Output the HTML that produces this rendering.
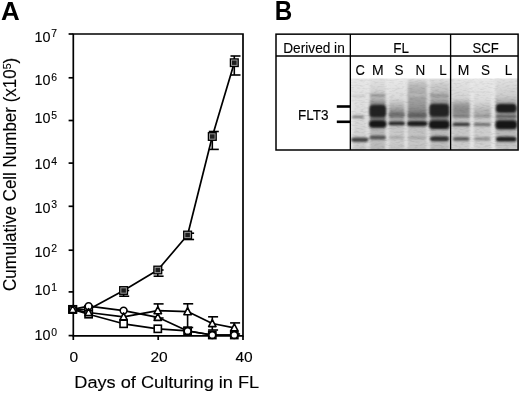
<!DOCTYPE html>
<html><head><meta charset="utf-8"><style>
html,body{margin:0;padding:0;background:#fff;}
body{width:520px;height:393px;overflow:hidden;}
svg{display:block;filter:blur(0.3px);}
text{font-family:"Liberation Sans",sans-serif;fill:#000;}
</style></head><body>
<svg width="520" height="393" viewBox="0 0 520 393">
<rect width="520" height="393" fill="#fff"/>
<text transform="translate(10.30,19.60) scale(1.020,1)" font-size="25.4" text-anchor="middle" font-weight="bold">A</text>
<text transform="translate(283.50,19.80) scale(0.900,1)" font-size="26.9" text-anchor="middle" font-weight="bold">B</text>
<g stroke="#000" stroke-width="1.7" fill="none">
<path d="M73.3,34 H243 V335.8 H73.3 Z"/>
<line x1="68.6" y1="335.6" x2="73.3" y2="335.6"/><line x1="68.6" y1="291.9" x2="73.3" y2="291.9"/><line x1="68.6" y1="250.2" x2="73.3" y2="250.2"/><line x1="68.6" y1="206.3" x2="73.3" y2="206.3"/><line x1="68.6" y1="163.1" x2="73.3" y2="163.1"/><line x1="68.6" y1="120.5" x2="73.3" y2="120.5"/><line x1="68.6" y1="77.8" x2="73.3" y2="77.8"/><line x1="68.6" y1="34.0" x2="73.3" y2="34.0"/>
<line x1="73.3" y1="335.8" x2="73.3" y2="340"/>
<line x1="158.2" y1="335.8" x2="158.2" y2="340"/>
<line x1="243" y1="335.8" x2="243" y2="340"/>
</g>
<text transform="translate(50.50,340.00) scale(1.020,1)" font-size="14.1" text-anchor="end" stroke="#000" stroke-width="0.12">10</text><text transform="translate(51.20,335.60) scale(1.000,1)" font-size="10.4" text-anchor="start" stroke="#000" stroke-width="0.12">0</text><text transform="translate(50.50,295.20) scale(1.020,1)" font-size="14.1" text-anchor="end" stroke="#000" stroke-width="0.12">10</text><text transform="translate(51.20,290.80) scale(1.000,1)" font-size="10.4" text-anchor="start" stroke="#000" stroke-width="0.12">1</text><text transform="translate(50.50,256.80) scale(1.020,1)" font-size="14.1" text-anchor="end" stroke="#000" stroke-width="0.12">10</text><text transform="translate(51.20,252.40) scale(1.000,1)" font-size="10.4" text-anchor="start" stroke="#000" stroke-width="0.12">2</text><text transform="translate(50.50,212.60) scale(1.020,1)" font-size="14.1" text-anchor="end" stroke="#000" stroke-width="0.12">10</text><text transform="translate(51.20,208.20) scale(1.000,1)" font-size="10.4" text-anchor="start" stroke="#000" stroke-width="0.12">3</text><text transform="translate(50.50,169.40) scale(1.020,1)" font-size="14.1" text-anchor="end" stroke="#000" stroke-width="0.12">10</text><text transform="translate(51.20,165.00) scale(1.000,1)" font-size="10.4" text-anchor="start" stroke="#000" stroke-width="0.12">4</text><text transform="translate(50.50,123.20) scale(1.020,1)" font-size="14.1" text-anchor="end" stroke="#000" stroke-width="0.12">10</text><text transform="translate(51.20,118.80) scale(1.000,1)" font-size="10.4" text-anchor="start" stroke="#000" stroke-width="0.12">5</text><text transform="translate(50.50,85.30) scale(1.020,1)" font-size="14.1" text-anchor="end" stroke="#000" stroke-width="0.12">10</text><text transform="translate(51.20,80.90) scale(1.000,1)" font-size="10.4" text-anchor="start" stroke="#000" stroke-width="0.12">6</text><text transform="translate(50.50,41.70) scale(1.020,1)" font-size="14.1" text-anchor="end" stroke="#000" stroke-width="0.12">10</text><text transform="translate(51.20,37.30) scale(1.000,1)" font-size="10.4" text-anchor="start" stroke="#000" stroke-width="0.12">7</text>
<text transform="translate(73.75,362.20) scale(1.050,1)" font-size="14.8" text-anchor="middle" stroke="#000" stroke-width="0.12">0</text>
<text transform="translate(159.00,362.20) scale(1.050,1)" font-size="14.8" text-anchor="middle" stroke="#000" stroke-width="0.12">20</text>
<text transform="translate(244.10,362.20) scale(1.050,1)" font-size="14.8" text-anchor="middle" stroke="#000" stroke-width="0.12">40</text>
<text transform="translate(166.75,387.50) scale(1.083,1)" font-size="16.8" text-anchor="middle" stroke="#000" stroke-width="0.12">Days of Culturing in FL</text>
<text transform="translate(15.6,174.4) rotate(-90) scale(0.913,1)" font-size="18.6" text-anchor="middle" stroke="#000" stroke-width="0.12">Cumulative Cell Number (x10<tspan font-size="11.5" dy="-4.8">5</tspan><tspan dy="4.8">)</tspan></text>
<g stroke="#000" stroke-width="1.7" fill="none" stroke-linejoin="round">
<polyline points="72.7,309.4 88.6,314.2 123.6,323.8 157.8,328.8 187.6,330.8 212.3,335.0 234.3,335.0"/>
<polyline points="72.7,309.4 88.6,312.5 123.6,316.8 157.8,310.6 187.6,311.6 212.3,323.5 234.3,327.8"/>
<polyline points="72.7,309.4 88.6,306.2 123.6,310.6 157.8,317.3 187.6,331.0 212.3,335.0 234.3,335.0"/>
<polyline points="72.7,309.4 88.6,309.5 123.6,290.5 157.8,270.0 187.6,235.0 212.3,136.5 234.3,62.7"/>
</g>
<g stroke="#000" stroke-width="1.6">
<line x1="234.3" y1="56" x2="234.3" y2="75"/>
<line x1="230.5" y1="56" x2="240.5" y2="56"/>
<line x1="230.5" y1="75" x2="240.5" y2="75"/>
<line x1="212.3" y1="131.5" x2="212.3" y2="149.4"/>
<line x1="208.8" y1="131.5" x2="218.8" y2="131.5"/>
<line x1="208.8" y1="149.4" x2="218.8" y2="149.4"/>
<line x1="187.6" y1="233.2" x2="187.6" y2="239.5"/>
<line x1="184.1" y1="233.2" x2="194.1" y2="233.2"/>
<line x1="184.1" y1="239.5" x2="194.1" y2="239.5"/>
<line x1="157.8" y1="270" x2="157.8" y2="276.2"/>
<line x1="153.6" y1="270" x2="163.6" y2="270"/>
<line x1="153.6" y1="276.2" x2="163.6" y2="276.2"/>
<line x1="123.6" y1="290.5" x2="123.6" y2="296.2"/>
<line x1="119.2" y1="290.5" x2="129.2" y2="290.5"/>
<line x1="119.2" y1="296.2" x2="129.2" y2="296.2"/>
<line x1="157.8" y1="303.9" x2="157.8" y2="318"/>
<line x1="153.6" y1="303.9" x2="163.6" y2="303.9"/>
<line x1="153.6" y1="318" x2="163.6" y2="318"/>
<line x1="187.6" y1="303.8" x2="187.6" y2="327.5"/>
<line x1="183.2" y1="303.8" x2="193.2" y2="303.8"/>
<line x1="183.2" y1="327.5" x2="193.2" y2="327.5"/>
<line x1="212.3" y1="316.8" x2="212.3" y2="330"/>
<line x1="208.1" y1="316.8" x2="218.1" y2="316.8"/>
<line x1="208.1" y1="330" x2="218.1" y2="330"/>
<line x1="234.3" y1="322.9" x2="234.3" y2="334"/>
<line x1="230.1" y1="322.9" x2="240.1" y2="322.9"/>
<line x1="230.1" y1="334" x2="240.1" y2="334"/>
</g>
<rect x="68.8" y="305.6" width="7.8" height="7.6" fill="#a0a0a0" stroke="#000" stroke-width="1.3"/><rect x="70.4" y="307.2" width="4.6" height="4.4" fill="#1e1e1e"/>
<rect x="84.7" y="305.7" width="7.8" height="7.6" fill="#a0a0a0" stroke="#000" stroke-width="1.3"/><rect x="86.3" y="307.3" width="4.6" height="4.4" fill="#1e1e1e"/>
<rect x="119.7" y="286.7" width="7.8" height="7.6" fill="#a0a0a0" stroke="#000" stroke-width="1.3"/><rect x="121.3" y="288.3" width="4.6" height="4.4" fill="#1e1e1e"/>
<rect x="153.9" y="266.2" width="7.8" height="7.6" fill="#a0a0a0" stroke="#000" stroke-width="1.3"/><rect x="155.5" y="267.8" width="4.6" height="4.4" fill="#1e1e1e"/>
<rect x="183.7" y="231.2" width="7.8" height="7.6" fill="#a0a0a0" stroke="#000" stroke-width="1.3"/><rect x="185.3" y="232.8" width="4.6" height="4.4" fill="#1e1e1e"/>
<rect x="208.4" y="132.7" width="7.8" height="7.6" fill="#a0a0a0" stroke="#000" stroke-width="1.3"/><rect x="210.0" y="134.3" width="4.6" height="4.4" fill="#1e1e1e"/>
<rect x="230.4" y="58.9" width="7.8" height="7.6" fill="#a0a0a0" stroke="#000" stroke-width="1.3"/><rect x="232.0" y="60.5" width="4.6" height="4.4" fill="#1e1e1e"/>
<rect x="69.1" y="305.8" width="7.2" height="7.2" fill="#fff" stroke="#000" stroke-width="1.6"/>
<rect x="85.0" y="310.6" width="7.2" height="7.2" fill="#fff" stroke="#000" stroke-width="1.6"/>
<rect x="120.0" y="320.2" width="7.2" height="7.2" fill="#fff" stroke="#000" stroke-width="1.6"/>
<rect x="154.2" y="325.2" width="7.2" height="7.2" fill="#fff" stroke="#000" stroke-width="1.6"/>
<rect x="184.0" y="327.2" width="7.2" height="7.2" fill="#fff" stroke="#000" stroke-width="1.6"/>
<rect x="208.7" y="331.4" width="7.2" height="7.2" fill="#fff" stroke="#000" stroke-width="1.6"/>
<rect x="230.7" y="331.4" width="7.2" height="7.2" fill="#fff" stroke="#000" stroke-width="1.6"/>
<circle cx="72.7" cy="309.4" r="3.4" fill="#fff" stroke="#000" stroke-width="1.6"/>
<circle cx="88.6" cy="306.2" r="3.4" fill="#fff" stroke="#000" stroke-width="1.6"/>
<circle cx="123.6" cy="310.6" r="3.4" fill="#fff" stroke="#000" stroke-width="1.6"/>
<polygon points="157.8,313.4 161.5,320.4 154.1,320.4" fill="#fff" stroke="#000" stroke-width="1.6" stroke-linejoin="round"/>
<circle cx="187.6" cy="331.0" r="3.4" fill="#fff" stroke="#000" stroke-width="1.6"/>
<circle cx="212.3" cy="335.0" r="3.4" fill="#fff" stroke="#000" stroke-width="1.6"/>
<circle cx="234.3" cy="335.0" r="3.4" fill="#fff" stroke="#000" stroke-width="1.6"/>
<polygon points="72.7,305.5 76.4,312.5 69.0,312.5" fill="#fff" stroke="#000" stroke-width="1.6" stroke-linejoin="round"/>
<polygon points="88.6,308.6 92.3,315.6 84.9,315.6" fill="#fff" stroke="#000" stroke-width="1.6" stroke-linejoin="round"/>
<polygon points="123.6,312.9 127.3,319.9 119.9,319.9" fill="#fff" stroke="#000" stroke-width="1.6" stroke-linejoin="round"/>
<polygon points="157.8,306.7 161.5,313.7 154.1,313.7" fill="#fff" stroke="#000" stroke-width="1.6" stroke-linejoin="round"/>
<polygon points="187.6,307.7 191.3,314.7 183.9,314.7" fill="#fff" stroke="#000" stroke-width="1.6" stroke-linejoin="round"/>
<polygon points="212.3,319.6 216.0,326.6 208.6,326.6" fill="#fff" stroke="#000" stroke-width="1.6" stroke-linejoin="round"/>
<polygon points="234.3,323.9 238.0,330.9 230.6,330.9" fill="#fff" stroke="#000" stroke-width="1.6" stroke-linejoin="round"/>
<g><defs><filter id="lb" x="-30%" y="-5%" width="160%" height="110%"><feGaussianBlur stdDeviation="1.4 0.8"/></filter><filter id="bb" x="-30%" y="-100%" width="160%" height="300%"><feGaussianBlur stdDeviation="1.1 0.85"/></filter><filter id="nz" x="0" y="0" width="100%" height="100%"><feTurbulence type="fractalNoise" baseFrequency="0.2 0.6" numOctaves="2" seed="7"/><feColorMatrix type="matrix" values="0.45 0 0 0 0.76  0.45 0 0 0 0.76  0.45 0 0 0 0.76  0 0 0 0 1"/></filter><clipPath id="bc"><rect x="351" y="78.5" width="167" height="71.5"/></clipPath><linearGradient id="gC" x1="0" y1="78.5" x2="0" y2="149.5" gradientUnits="userSpaceOnUse"><stop offset="0.0000" stop-color="#e6e6e6"/><stop offset="0.3028" stop-color="#e0e0e0"/><stop offset="0.7254" stop-color="#d4d4d4"/><stop offset="0.8944" stop-color="#d0d0d0"/><stop offset="1.0000" stop-color="#c4c4c4"/></linearGradient><linearGradient id="gM" x1="0" y1="78.5" x2="0" y2="149.5" gradientUnits="userSpaceOnUse"><stop offset="0.0000" stop-color="#e2e2e2"/><stop offset="0.1620" stop-color="#d4d4d4"/><stop offset="0.2887" stop-color="#b4b4b4"/><stop offset="0.3451" stop-color="#8c8c8c"/><stop offset="0.5563" stop-color="#6e6e6e"/><stop offset="0.6127" stop-color="#969696"/><stop offset="0.7254" stop-color="#b4b4b4"/><stop offset="0.8944" stop-color="#bebebe"/><stop offset="1.0000" stop-color="#b6b6b6"/></linearGradient><linearGradient id="gS" x1="0" y1="78.5" x2="0" y2="149.5" gradientUnits="userSpaceOnUse"><stop offset="0.0000" stop-color="#e8e8e8"/><stop offset="0.2746" stop-color="#dadada"/><stop offset="0.3592" stop-color="#bebebe"/><stop offset="0.4296" stop-color="#a0a0a0"/><stop offset="0.4859" stop-color="#828282"/><stop offset="0.5282" stop-color="#7a7a7a"/><stop offset="0.5634" stop-color="#a0a0a0"/><stop offset="0.6127" stop-color="#b9b9b9"/><stop offset="0.7254" stop-color="#c8c8c8"/><stop offset="0.8944" stop-color="#cccccc"/><stop offset="1.0000" stop-color="#c2c2c2"/></linearGradient><linearGradient id="gN" x1="0" y1="78.5" x2="0" y2="149.5" gradientUnits="userSpaceOnUse"><stop offset="0.0000" stop-color="#e4e4e4"/><stop offset="0.0493" stop-color="#c8c8c8"/><stop offset="0.1197" stop-color="#b6b6b6"/><stop offset="0.2324" stop-color="#a6a6a6"/><stop offset="0.3451" stop-color="#9b9b9b"/><stop offset="0.4296" stop-color="#8c8c8c"/><stop offset="0.4859" stop-color="#767676"/><stop offset="0.5352" stop-color="#737373"/><stop offset="0.5775" stop-color="#a0a0a0"/><stop offset="0.6690" stop-color="#bebebe"/><stop offset="0.8944" stop-color="#c8c8c8"/><stop offset="1.0000" stop-color="#c0c0c0"/></linearGradient><linearGradient id="gL" x1="0" y1="78.5" x2="0" y2="149.5" gradientUnits="userSpaceOnUse"><stop offset="0.0000" stop-color="#e2e2e2"/><stop offset="0.0775" stop-color="#d0d0d0"/><stop offset="0.1901" stop-color="#bebebe"/><stop offset="0.3028" stop-color="#a5a5a5"/><stop offset="0.3451" stop-color="#919191"/><stop offset="0.5563" stop-color="#787878"/><stop offset="0.6127" stop-color="#969696"/><stop offset="0.7254" stop-color="#b6b6b6"/><stop offset="0.8944" stop-color="#c0c0c0"/><stop offset="1.0000" stop-color="#b8b8b8"/></linearGradient><linearGradient id="gM2" x1="0" y1="78.5" x2="0" y2="149.5" gradientUnits="userSpaceOnUse"><stop offset="0.0000" stop-color="#e6e6e6"/><stop offset="0.2746" stop-color="#d4d4d4"/><stop offset="0.3310" stop-color="#b9b9b9"/><stop offset="0.3732" stop-color="#969696"/><stop offset="0.4718" stop-color="#878787"/><stop offset="0.5070" stop-color="#969696"/><stop offset="0.5704" stop-color="#bebebe"/><stop offset="0.7254" stop-color="#c6c6c6"/><stop offset="1.0000" stop-color="#cdcdcd"/></linearGradient><linearGradient id="gS2" x1="0" y1="78.5" x2="0" y2="149.5" gradientUnits="userSpaceOnUse"><stop offset="0.0000" stop-color="#e8e8e8"/><stop offset="0.3028" stop-color="#dcdcdc"/><stop offset="0.3873" stop-color="#c8c8c8"/><stop offset="0.4718" stop-color="#afafaf"/><stop offset="0.5282" stop-color="#b4b4b4"/><stop offset="0.5845" stop-color="#c8c8c8"/><stop offset="0.7254" stop-color="#cdcdcd"/><stop offset="1.0000" stop-color="#d0d0d0"/></linearGradient><linearGradient id="gL2" x1="0" y1="78.5" x2="0" y2="149.5" gradientUnits="userSpaceOnUse"><stop offset="0.0000" stop-color="#e2e2e2"/><stop offset="0.2465" stop-color="#cdcdcd"/><stop offset="0.3169" stop-color="#b2b2b2"/><stop offset="0.5563" stop-color="#969696"/><stop offset="0.7535" stop-color="#b6b6b6"/><stop offset="1.0000" stop-color="#c6c6c6"/></linearGradient></defs>
<g clip-path="url(#bc)">
<rect x="351" y="78.5" width="167" height="71" fill="#e4e4e4"/>
<g filter="url(#lb)">
<rect x="351.8" y="76.5" width="15.800000000000011" height="75.0" fill="url(#gC)"/>
<rect x="369" y="76.5" width="17.30000000000001" height="75.0" fill="url(#gM)"/>
<rect x="388.2" y="76.5" width="17.100000000000023" height="75.0" fill="url(#gS)"/>
<rect x="406.8" y="76.5" width="20.80000000000001" height="75.0" fill="url(#gN)"/>
<rect x="429.2" y="76.5" width="20.19999999999999" height="75.0" fill="url(#gL)"/>
<rect x="452.2" y="76.5" width="18.30000000000001" height="75.0" fill="url(#gM2)"/>
<rect x="473" y="76.5" width="18.5" height="75.0" fill="url(#gS2)"/>
<rect x="495" y="76.5" width="22.5" height="75.0" fill="url(#gL2)"/>
</g>
<g filter="url(#lb)" fill="#ededed">
<rect x="351.2" y="79" width="1.6" height="72"/>
<rect x="367.5" y="79" width="1.6" height="72"/>
<rect x="386.5" y="79" width="1.6" height="72"/>
<rect x="405.3" y="79" width="1.6" height="72"/>
<rect x="427.6" y="79" width="1.6" height="72"/>
<rect x="471.0" y="79" width="1.6" height="72"/>
<rect x="492.6" y="79" width="1.6" height="72"/>
</g>
<g filter="url(#bb)">
<rect x="353" y="95.20" width="13" height="1.6" rx="1.3" ry="0.8" fill="#c3c3c3"/>
<rect x="352" y="115.75" width="12" height="2.3" rx="1.8" ry="1.1" fill="#6e6e6e"/>
<rect x="351" y="137.60" width="17.5" height="4.4" rx="3.5" ry="2.2" fill="#444444"/>
<rect x="370" y="94.45" width="15.5" height="1.7" rx="1.4" ry="0.8" fill="#828282"/>
<rect x="369.5" y="104.70" width="16.5" height="12.6" rx="4.0" ry="3.5" fill="#242424"/>
<rect x="369" y="120.30" width="17.5" height="7.4" rx="4.0" ry="3.5" fill="#181818"/>
<rect x="369.5" y="135.40" width="16.5" height="4.2" rx="3.4" ry="2.1" fill="#525252"/>
<rect x="389" y="112.80" width="15.5" height="3.6" rx="2.9" ry="1.8" fill="#6e6e6e"/>
<rect x="388.5" y="121.60" width="16.5" height="3.6" rx="2.9" ry="1.8" fill="#262626"/>
<rect x="389" y="136.10" width="15" height="3" rx="2.4" ry="1.5" fill="#aaaaaa"/>
<rect x="408" y="94.00" width="18.5" height="2" rx="1.6" ry="1.0" fill="#bebebe"/>
<rect x="408" y="113.50" width="18.5" height="3.6" rx="2.9" ry="1.8" fill="#5f5f5f"/>
<rect x="407" y="121.00" width="20.5" height="5.2" rx="4.0" ry="2.6" fill="#1e1e1e"/>
<rect x="408" y="136.30" width="18" height="3" rx="2.4" ry="1.5" fill="#a8a8a8"/>
<rect x="431" y="84.50" width="16" height="1.4" rx="1.1" ry="0.7" fill="#c8c8c8"/>
<rect x="431" y="87.50" width="16" height="1.4" rx="1.1" ry="0.7" fill="#c3c3c3"/>
<rect x="430" y="94.60" width="18.5" height="1.8" rx="1.4" ry="0.9" fill="#8c8c8c"/>
<rect x="429.5" y="103.80" width="19.5" height="13" rx="4.0" ry="3.5" fill="#242424"/>
<rect x="429" y="120.20" width="20.5" height="8.8" rx="4.0" ry="3.5" fill="#141414"/>
<rect x="430" y="136.30" width="19" height="5.0" rx="4.0" ry="2.5" fill="#2d2d2d"/>
<rect x="453" y="114.80" width="16.5" height="2.4" rx="1.9" ry="1.2" fill="#767676"/>
<rect x="452.5" y="122.80" width="17.5" height="3.2" rx="2.6" ry="1.6" fill="#303030"/>
<rect x="453" y="137.10" width="16.5" height="3.6" rx="2.9" ry="1.8" fill="#5c5c5c"/>
<rect x="474" y="114.90" width="16.5" height="2.2" rx="1.8" ry="1.1" fill="#8c8c8c"/>
<rect x="473.5" y="122.90" width="17.5" height="3.0" rx="2.4" ry="1.5" fill="#707070"/>
<rect x="474" y="137.20" width="16.5" height="3.4" rx="2.7" ry="1.7" fill="#919191"/>
<rect x="496" y="103.80" width="20.5" height="9" rx="4.0" ry="3.5" fill="#1a1a1a"/>
<rect x="496" y="115.20" width="20.5" height="2.2" rx="1.8" ry="1.1" fill="#505050"/>
<rect x="495.5" y="120.30" width="21.5" height="9" rx="4.0" ry="3.5" fill="#121212"/>
<rect x="496" y="136.80" width="20.5" height="4.8" rx="3.8" ry="2.4" fill="#1e1e1e"/>
</g>
<rect x="351" y="78.5" width="167" height="71.5" filter="url(#nz)" style="mix-blend-mode:multiply"/>
</g></g>
<g stroke="#000" stroke-width="1.5" fill="none">
<rect x="276" y="34.15" width="242.1" height="115.85"/>
<line x1="276" y1="56.0" x2="518.1" y2="56.0"/>
</g>
<g stroke="#000" stroke-width="1.35" fill="none">
<line x1="350.35" y1="34.15" x2="350.35" y2="150"/>
<line x1="450.6" y1="34.15" x2="450.6" y2="150"/>
</g>
<g stroke="#000" stroke-width="2.6">
<line x1="336.8" y1="106.5" x2="350" y2="106.5"/>
<line x1="336.8" y1="121.8" x2="350" y2="121.8"/>
</g>
<text transform="translate(314.00,52.90) scale(0.900,1)" font-size="15.2" text-anchor="middle" stroke="#000" stroke-width="0.12">Derived in</text>
<text transform="translate(401.20,52.80) scale(0.880,1)" font-size="15.3" text-anchor="middle" stroke="#000" stroke-width="0.12">FL</text>
<text transform="translate(485.60,52.80) scale(0.860,1)" font-size="15.3" text-anchor="middle" stroke="#000" stroke-width="0.12">SCF</text>
<text transform="translate(313.20,119.60) scale(0.945,1)" font-size="14.3" text-anchor="middle" stroke="#000" stroke-width="0.12">FLT3</text>
<text transform="translate(360.15,74.50) scale(0.880,1)" font-size="14.7" text-anchor="middle" stroke="#000" stroke-width="0.12">C</text>
<text transform="translate(377.80,74.50) scale(0.950,1)" font-size="14.7" text-anchor="middle" stroke="#000" stroke-width="0.12">M</text>
<text transform="translate(398.90,74.50) scale(0.920,1)" font-size="14.7" text-anchor="middle" stroke="#000" stroke-width="0.12">S</text>
<text transform="translate(420.30,74.50) scale(0.920,1)" font-size="14.7" text-anchor="middle" stroke="#000" stroke-width="0.12">N</text>
<text transform="translate(442.90,74.50) scale(0.920,1)" font-size="14.7" text-anchor="middle" stroke="#000" stroke-width="0.12">L</text>
<text transform="translate(463.50,74.50) scale(0.950,1)" font-size="14.7" text-anchor="middle" stroke="#000" stroke-width="0.12">M</text>
<text transform="translate(485.40,74.50) scale(0.920,1)" font-size="14.7" text-anchor="middle" stroke="#000" stroke-width="0.12">S</text>
<text transform="translate(508.60,74.50) scale(0.920,1)" font-size="14.7" text-anchor="middle" stroke="#000" stroke-width="0.12">L</text>
</svg>
</body></html>
